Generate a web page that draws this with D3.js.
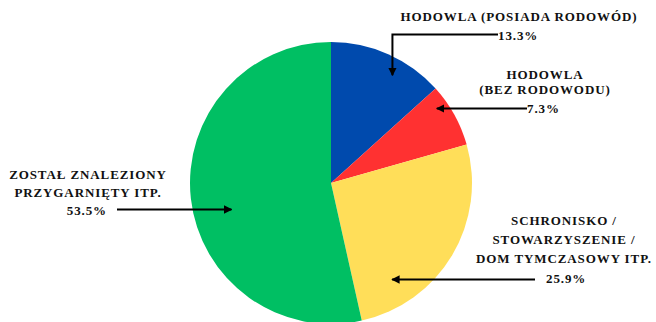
<!DOCTYPE html>
<html>
<head>
<meta charset="utf-8">
<script src="https://cdn.jsdelivr.net/npm/d3@7/dist/d3.min.js"></script>
<style>
  html, body { margin: 0; padding: 0; background: #fff; }
  svg { display: block; }
</style>
</head>
<body>
<svg id="chart" width="656" height="322"></svg>
<script>
// Source of the animal (shares, %)
const categories = [
  "HODOWLA (POSIADA RODOWÓD)",
  "HODOWLA (BEZ RODOWODU)",
  "SCHRONISKO / STOWARZYSZENIE / DOM TYMCZASOWY ITP.",
  "ZOSTAŁ ZNALEZIONY PRZYGARNIĘTY ITP."
];
const values = [13.3, 7.3, 25.9, 53.5];
const colors = ["#004AAD", "#FF3131", "#FFDE59", "#00BF63"];

// Label lines per slice
const labelLines = [
  ["HODOWLA (POSIADA RODOWÓD)"],
  ["HODOWLA", "(BEZ RODOWODU)"],
  ["SCHRONISKO /", "STOWARZYSZENIE /", "DOM TYMCZASOWY ITP."],
  ["ZOSTAŁ ZNALEZIONY", "PRZYGARNIĘTY ITP."]
];

// Layout of the callouts: text block centre/baseline, value text, arrow start,
// and arrow tip in polar form (degrees clockwise from 12 o'clock, radius px)
const callouts = [
  { x: 519, y: 21, lh: 19, valX: 498, valY: 40, valAnchor: "start", from: [498, 34.5], elbow: true,  tip: [29.7, 124] },
  { x: 545, y: 79, lh: 15, valX: 527, valY: 113, valAnchor: "start", from: [527, 108.5], elbow: false, tip: [55.1, 129] },
  { x: 564, y: 225, lh: 19, valX: 546, valY: 283, valAnchor: "start", from: [535, 279.5], elbow: false, tip: [147.6, 114] },
  { x: 88, y: 179, lh: 18, valX: 107, valY: 215, valAnchor: "end", from: [117, 209.5], elbow: false, tip: [255.2, 103] }
];

const FONT = "'Liberation Serif', 'Times New Roman', serif";

const svg = d3.select("#chart");
const cx = 331, cy = 183, radius = 141;

const pie = d3.pie().sort(null).value(d => d)(values);
const arc = d3.arc().innerRadius(0).outerRadius(radius);

const g = svg.append("g").attr("transform", `translate(${cx},${cy})`);
g.selectAll("path.slice")
  .data(pie)
  .join("path")
  .attr("class", "slice")
  .attr("d", arc)
  .attr("fill", (d, i) => colors[i]);

// Arrowhead marker
svg.append("defs").append("marker")
  .attr("id", "head")
  .attr("viewBox", "0 0 10 10")
  .attr("refX", 9).attr("refY", 5)
  .attr("markerWidth", 4.2).attr("markerHeight", 4.2)
  .attr("markerUnits", "strokeWidth")
  .attr("orient", "auto")
  .append("path")
  .attr("d", "M0,0 L10,5 L0,10 Z")
  .attr("fill", "#000");

const polar = (deg, r) => {
  const a = deg * Math.PI / 180;
  return [cx + r * Math.sin(a), cy - r * Math.cos(a)];
};

const styleText = sel => sel
  .style("font-family", FONT)
  .style("font-weight", "bold")
  .style("font-size", "13px")
  .style("letter-spacing", "0.9px")
  .attr("fill", "#111");

callouts.forEach((c, i) => {
  const tip = polar(c.tip[0], c.tip[1]);
  const pts = c.elbow
    ? [c.from, [tip[0], c.from[1]], tip]
    : [c.from, [tip[0], c.from[1]]];
  svg.append("path")
    .attr("d", d3.line()(pts))
    .attr("fill", "none")
    .attr("stroke", "#000")
    .attr("stroke-width", 2)
    .attr("marker-end", "url(#head)");

  const t = svg.append("text")
    .attr("text-anchor", "middle")
    .call(styleText);
  labelLines[i].forEach((line, k) => {
    t.append("tspan").attr("x", c.x).attr("y", c.y + k * c.lh).text(line);
  });

  svg.append("text")
    .attr("x", c.valX).attr("y", c.valY)
    .attr("text-anchor", c.valAnchor)
    .call(styleText)
    .text(d3.format(".1f")(values[i]) + "%");
});
</script>
</body>
</html>
